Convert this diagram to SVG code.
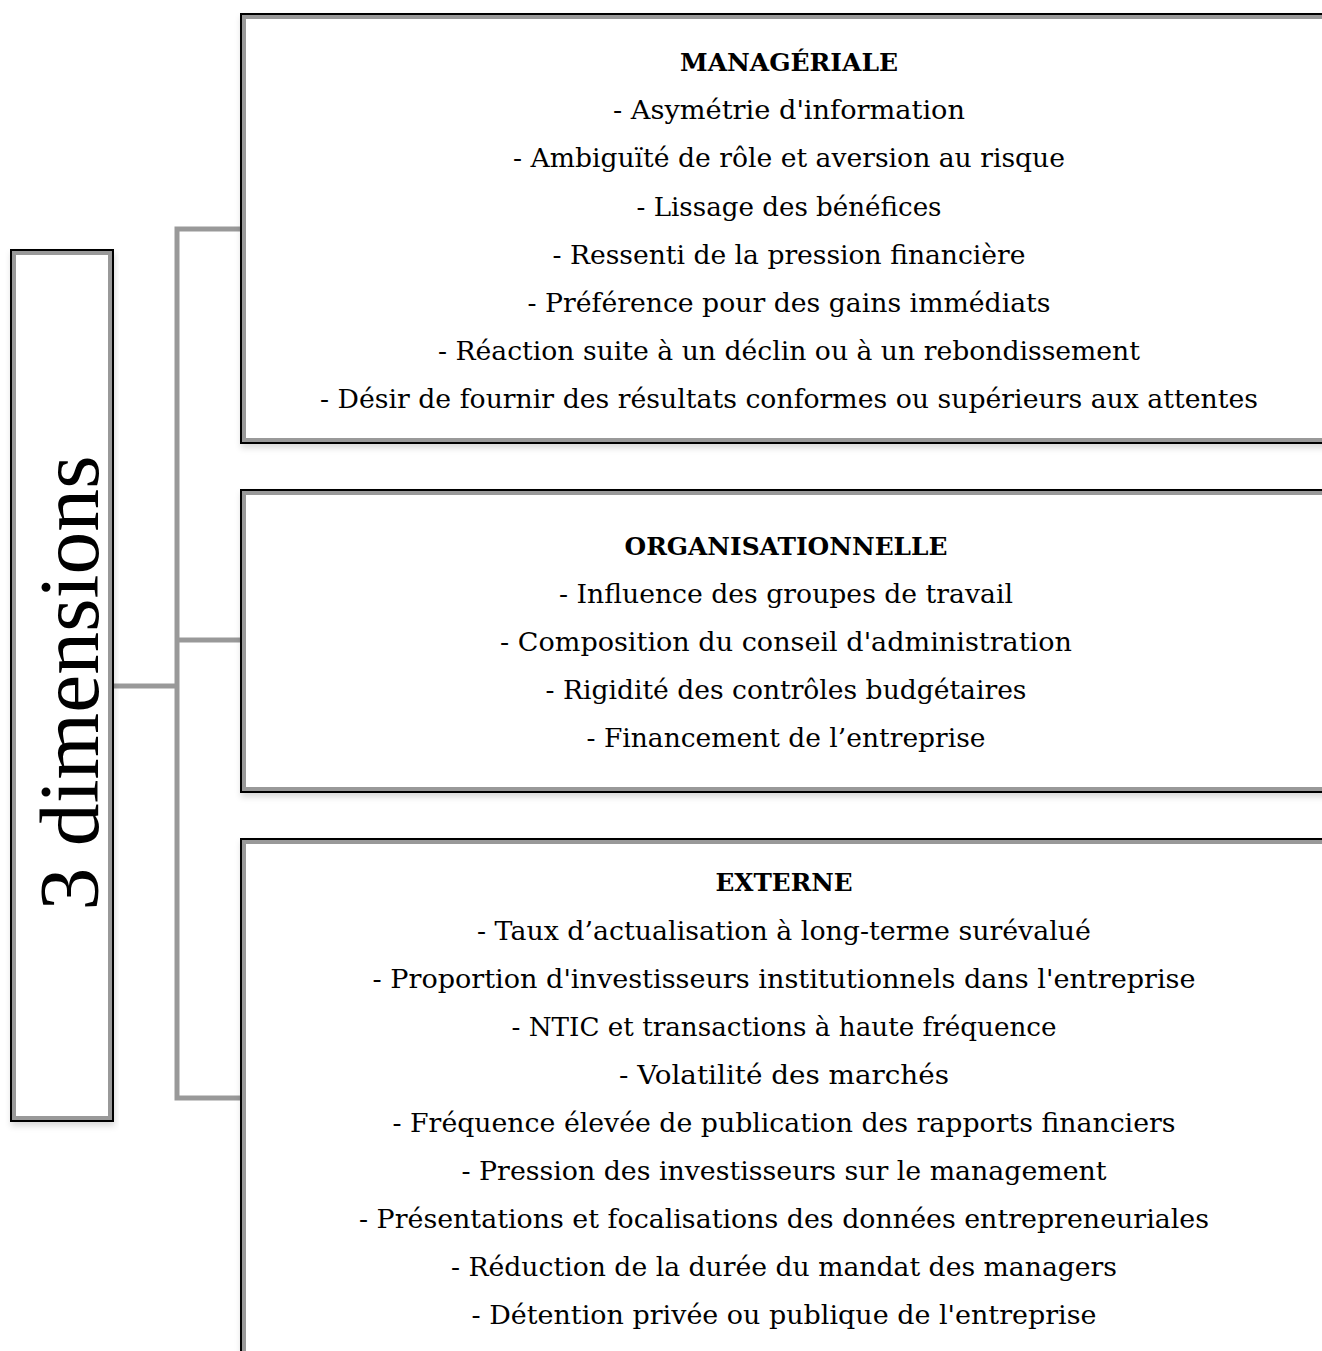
<svg xmlns="http://www.w3.org/2000/svg" width="1322" height="1351" viewBox="0 0 1322 1351">
<defs>
<style>
.outer{fill:#fff;stroke:#000;stroke-width:2}
.inner{fill:none;stroke:#999;stroke-width:4}
.conn{fill:none;stroke:#999;stroke-width:5;stroke-linejoin:miter}
text{font-family:"DejaVu Serif","Liberation Serif",serif;fill:#000}
.t{font-size:26px;text-anchor:middle}
.h{font-size:25px;font-weight:bold;text-anchor:middle}
.big{font-family:"Liberation Serif","DejaVu Serif",serif;font-size:84px;text-anchor:middle}
</style>
<filter id="sh" x="-5%" y="-5%" width="110%" height="115%">
<feDropShadow dx="1" dy="4" stdDeviation="3" flood-color="#000" flood-opacity="0.15"/>
</filter>
</defs>
<rect width="1322" height="1351" fill="#fff"/>
<g id="connectors">
<polyline class="conn" points="240,229 177,229 177,1098 240,1098"/>
<line class="conn" x1="177" y1="640" x2="240" y2="640"/>
<line class="conn" x1="113" y1="686" x2="177" y2="686"/>
</g>
<g id="dimensions">
<rect class="outer" x="11" y="250" width="102" height="871" filter="url(#sh)"/>
<rect class="inner" x="14" y="253" width="96" height="865"/>
<text class="big" transform="translate(98,683) rotate(-90)" textLength="455" lengthAdjust="spacingAndGlyphs">3 dimensions</text>
</g>
<g id="manageriale">
<rect class="outer" x="241" y="14" width="1100" height="429" filter="url(#sh)"/>
<rect class="inner" x="244" y="17" width="1100" height="423"/>
<text class="h" x="789" y="71" textLength="218" lengthAdjust="spacingAndGlyphs">MANAGÉRIALE</text>
<text class="t" x="789" y="119" textLength="352" lengthAdjust="spacingAndGlyphs">- Asymétrie d'information</text>
<text class="t" x="789" y="167" textLength="552" lengthAdjust="spacingAndGlyphs">- Ambiguïté de rôle et aversion au risque</text>
<text class="t" x="789" y="216" textLength="305" lengthAdjust="spacingAndGlyphs">- Lissage des bénéfices</text>
<text class="t" x="789" y="264" textLength="473" lengthAdjust="spacingAndGlyphs">- Ressenti de la pression financière</text>
<text class="t" x="789" y="312" textLength="523" lengthAdjust="spacingAndGlyphs">- Préférence pour des gains immédiats</text>
<text class="t" x="789" y="360" textLength="702" lengthAdjust="spacingAndGlyphs">- Réaction suite à un déclin ou à un rebondissement</text>
<text class="t" x="789" y="408" textLength="938" lengthAdjust="spacingAndGlyphs">- Désir de fournir des résultats conformes ou supérieurs aux attentes</text>
</g>
<g id="organisationnelle">
<rect class="outer" x="241" y="490" width="1100" height="302" filter="url(#sh)"/>
<rect class="inner" x="244" y="493" width="1100" height="296"/>
<text class="h" x="786" y="555" textLength="323" lengthAdjust="spacingAndGlyphs">ORGANISATIONNELLE</text>
<text class="t" x="786" y="603" textLength="454" lengthAdjust="spacingAndGlyphs">- Influence des groupes de travail</text>
<text class="t" x="786" y="651" textLength="572" lengthAdjust="spacingAndGlyphs">- Composition du conseil d'administration</text>
<text class="t" x="786" y="699" textLength="481" lengthAdjust="spacingAndGlyphs">- Rigidité des contrôles budgétaires</text>
<text class="t" x="786" y="747" textLength="399" lengthAdjust="spacingAndGlyphs">- Financement de l’entreprise</text>
</g>
<g id="externe">
<rect class="outer" x="241" y="839" width="1100" height="600" filter="url(#sh)"/>
<rect class="inner" x="244" y="842" width="1100" height="600"/>
<text class="h" x="784" y="891" textLength="137" lengthAdjust="spacingAndGlyphs">EXTERNE</text>
<text class="t" x="784" y="940" textLength="614" lengthAdjust="spacingAndGlyphs">- Taux d’actualisation à long-terme surévalué</text>
<text class="t" x="784" y="988" textLength="823" lengthAdjust="spacingAndGlyphs">- Proportion d'investisseurs institutionnels dans l'entreprise</text>
<text class="t" x="784" y="1036" textLength="545" lengthAdjust="spacingAndGlyphs">- NTIC et transactions à haute fréquence</text>
<text class="t" x="784" y="1084" textLength="330" lengthAdjust="spacingAndGlyphs">- Volatilité des marchés</text>
<text class="t" x="784" y="1132" textLength="783" lengthAdjust="spacingAndGlyphs">- Fréquence élevée de publication des rapports financiers</text>
<text class="t" x="784" y="1180" textLength="645" lengthAdjust="spacingAndGlyphs">- Pression des investisseurs sur le management</text>
<text class="t" x="784" y="1228" textLength="850" lengthAdjust="spacingAndGlyphs">- Présentations et focalisations des données entrepreneuriales</text>
<text class="t" x="784" y="1276" textLength="666" lengthAdjust="spacingAndGlyphs">- Réduction de la durée du mandat des managers</text>
<text class="t" x="784" y="1324" textLength="625" lengthAdjust="spacingAndGlyphs">- Détention privée ou publique de l'entreprise</text>
</g>
</svg>
